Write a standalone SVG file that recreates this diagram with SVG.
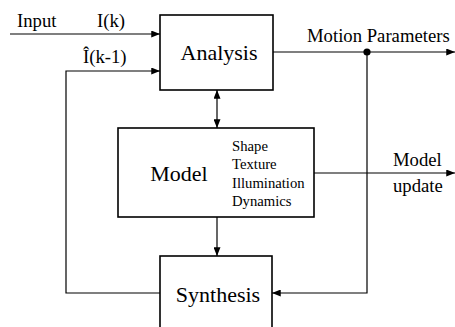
<svg xmlns="http://www.w3.org/2000/svg" width="455" height="327" viewBox="0 0 455 327">
<defs>
<marker id="ah" viewBox="0 0 10 8" refX="10" refY="4" markerWidth="9" markerHeight="7" markerUnits="userSpaceOnUse" orient="auto-start-reverse">
<path d="M0,0 L10,4 L0,8 z" fill="#000"/>
</marker>
<style>
.box{fill:#fff;stroke:#000;stroke-width:1.6}
.ln{fill:none;stroke:#000;stroke-width:1.2}
text{font-family:"Liberation Serif","Times New Roman",serif;fill:#000}
.big{font-size:22px;text-anchor:middle}
.lbl{font-size:18.7px}
.sm{font-size:14.7px}
</style>
</defs>
<rect width="455" height="327" fill="#fff"/>
<g id="connectors">
<path class="ln" d="M10,34 H160" marker-end="url(#ah)"/>
<path class="ln" d="M160,293 H66 V71 H160" marker-end="url(#ah)"/>
<path class="ln" d="M273,52 H455" marker-end="url(#ah)"/>
<path class="ln" d="M367,52 V293 H272" marker-end="url(#ah)"/>
<path class="ln" d="M217,90 V128" marker-start="url(#ah)" marker-end="url(#ah)"/>
<path class="ln" d="M217,217 V256" marker-end="url(#ah)"/>
<path class="ln" d="M314,173 H455" marker-end="url(#ah)"/>
<circle cx="367" cy="52" r="3.6" fill="#000"/>
<text class="lbl" x="17" y="27">Input</text>
<text class="lbl" x="97" y="27">I(k)</text>
<text class="lbl" x="83" y="63">Î(k-1)</text>
<text class="lbl" x="307" y="42">Motion Parameters</text>
<text class="lbl" x="393" y="166">Model</text>
<text class="lbl" x="393" y="192">update</text>
</g>
<g id="analysis">
<rect class="box" x="160" y="15" width="113" height="75"/>
<text class="big" x="219" y="60">Analysis</text>
</g>
<g id="model">
<rect class="box" x="118" y="128" width="196" height="89"/>
<text class="big" x="179" y="181">Model</text>
<text class="sm" x="232" y="151">Shape</text>
<text class="sm" x="232" y="169">Texture</text>
<text class="sm" x="232" y="188">Illumination</text>
<text class="sm" x="232" y="206">Dynamics</text>
</g>
<g id="synthesis">
<rect class="box" x="160" y="256" width="112" height="80"/>
<text class="big" x="218" y="302">Synthesis</text>
</g>
</svg>
